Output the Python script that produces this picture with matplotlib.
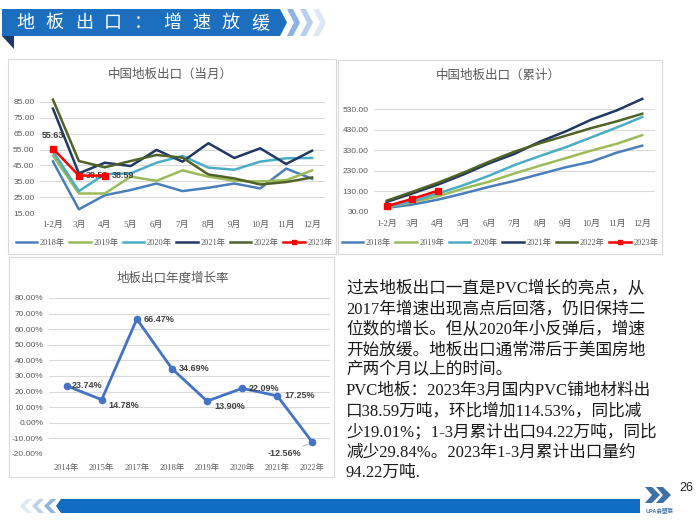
import matplotlib.pyplot as plt
from matplotlib.patches import Polygon, Rectangle

# ---- data ----
months = ["1-2月", "3月", "4月", "5月", "6月", "7月", "8月", "9月", "10月", "11月", "12月"]
series_names = ["2018年", "2019年", "2020年", "2021年", "2022年", "2023年"]
series_colors = ["#4A7EBB", "#9BBB59", "#4BACC6", "#1F3864", "#4F6228", "#FF0000"]

monthly_2018 = [47.5, 17.3, 26.2, 29.5, 33.6, 28.8, 30.9, 33.6, 30.5, 43.0, 36.6]
monthly_2019 = [51.2, 27.3, 27.3, 37.9, 35.3, 41.9, 37.9, 35.3, 34.9, 35.7, 41.9]
monthly_2020 = [54.0, 28.8, 39.5, 40.0, 46.7, 51.0, 43.6, 42.3, 47.4, 49.5, 49.7]
monthly_2021 = [80.8, 40.0, 46.7, 44.6, 54.8, 47.4, 59.0, 49.7, 55.8, 45.9, 54.3]
monthly_2022 = [86.5, 47.8, 43.8, 47.8, 51.6, 49.9, 39.3, 36.8, 33.0, 34.5, 37.4]
monthly_2023 = [55.63, 38.59, 38.59]

cum_2018 = [50, 66, 90, 120, 152, 181, 214, 247, 274, 318, 352]
cum_2019 = [53, 77, 106, 144, 177, 217, 255, 291, 328, 361, 403]
cum_2020 = [54, 82, 120, 160, 206, 258, 302, 344, 392, 440, 491]
cum_2021 = [79, 120, 163, 212, 266, 312, 372, 421, 478, 523, 579]
cum_2022 = [85, 128, 172, 221, 274, 323, 364, 400, 437, 470, 507]
cum_2023 = [58, 94.22, 133]

growth_years = ["2014年", "2015年", "2017年", "2018年", "2019年", "2020年", "2021年", "2022年"]
growth_rate = [23.74, 14.78, 66.47, 34.69, 13.90, 22.09, 17.25, -12.56]

header_title = "地板出口：增速放缓"
body_lines = [
    "过去地板出口一直是PVC增长的亮点，从",
    "2017年增速出现高点后回落，仍旧保持二",
    "位数的增长。但从2020年小反弹后，增速",
    "开始放缓。地板出口通常滞后于美国房地",
    "产两个月以上的时间。",
    "PVC地板：2023年3月国内PVC铺地材料出",
    "口38.59万吨，环比增加114.53%，同比减",
    "少19.01%；1-3月累计出口94.22万吨，同比",
    "减少29.84%。2023年1-3月累计出口量约",
    "94.22万吨.",
]

W, H = 700, 525
CJK = "Noto Sans CJK SC"
SANS = ["Liberation Sans", CJK]
SERIF = ["Liberation Serif", CJK]
GRAY = "#595959"
GRID = "#D9D9D9"


def rect(x0, y0, x1, y1):
    return [x0 / W, 1 - y1 / H, (x1 - x0) / W, (y1 - y0) / H]


fig = plt.figure(figsize=(7, 5.25), dpi=100)

# background layer in pixel coordinates
bg = fig.add_axes([0, 0, 1, 1], zorder=0)
bg.set_xlim(0, W)
bg.set_ylim(H, 0)
bg.axis("off")

# header banner
bg.add_patch(Polygon([(2, 9), (280, 9), (287, 22.5), (280, 36), (2, 36)], closed=True,
                     facecolor="#1B6FBE", edgecolor="none"))
bg.add_patch(Polygon([(2, 36), (14, 36), (14, 49)], closed=True, facecolor="#1F3864", edgecolor="none"))
for i, c in enumerate(["#8DB3E2", "#B8D0EC", "#DCE8F5"]):
    x0 = 287 + i * 13
    bg.add_patch(Polygon([(x0, 9), (x0 + 6, 9), (x0 + 13, 22.5), (x0 + 6, 36), (x0, 36), (x0 + 7, 22.5)],
                         closed=True, facecolor=c, edgecolor="none"))
for i, ch in enumerate(header_title):
    bg.text(25 + i * 29.4, 23, ch, color="white", fontsize=13, family=CJK, ha="center", va="center")

# panels
for (x0, y0, x1, y1) in [(8, 59, 336, 254), (338, 60, 662, 254), (9, 257, 334, 477)]:
    bg.add_patch(Rectangle((x0, y0), x1 - x0, y1 - y0, facecolor="white", edgecolor="#D9D9D9", lw=0.8))

# bottom bar and logo
for i, c in enumerate(["#DCE8F5", "#B8D0EC", "#8DB3E2"]):
    x0 = 20 + i * 12
    bg.add_patch(Polygon([(x0 + 7, 499), (x0 + 12, 499), (x0 + 5, 506), (x0 + 12, 513), (x0 + 7, 513), (x0, 506)],
                         closed=True, facecolor=c, edgecolor="none"))
bg.add_patch(Polygon([(61, 499), (640, 499), (640, 513), (61, 513), (56, 506)], closed=True,
                     facecolor="#0F6CC0", edgecolor="none"))
for x0 in [645, 656]:
    bg.add_patch(Polygon([(x0, 487), (x0 + 7, 487), (x0 + 15, 495), (x0 + 7, 503), (x0, 503), (x0 + 7, 495)],
                         closed=True, facecolor="#3D6FA8", edgecolor="none"))
bg.text(660, 510, "UPA会塑联", fontsize=4, color="#3D6FA8", family=SANS, ha="center", va="center",
        fontweight="bold")
bg.text(686, 488, "26", fontsize=9, color="#222222", family=SANS, ha="center", va="center")

# body text
for i, line in enumerate(body_lines):
    bg.text(346, 289 + i * 20.4, line, fontsize=12, color="#1A1A1A", family=SERIF, ha="left", va="center")


def style_axes(ax, ymin, ymax, step, fmt):
    ticks = [ymin + k * step for k in range(int(round((ymax - ymin) / step)) + 1)]
    ax.set_ylim(ymin, ymax)
    ax.set_yticks(ticks)
    ax.set_yticklabels([fmt(t) for t in ticks], fontsize=6, color=GRAY, family=SANS)
    ax.grid(axis="y", color=GRID, lw=0.8)
    ax.set_axisbelow(True)
    for s in ax.spines.values():
        s.set_visible(False)
    ax.tick_params(length=0, pad=4)
    ax.patch.set_alpha(0)


# ---- top-left: monthly ----
ax1 = fig.add_axes(rect(40, 102, 325, 213), zorder=2)
monthly = [monthly_2018, monthly_2019, monthly_2020, monthly_2021, monthly_2022]
x = list(range(len(months)))
for vals, name, col in zip(monthly, series_names[:5], series_colors[:5]):
    ax1.plot(x, vals, color=col, lw=1.8, label=name, clip_on=False)
ax1.plot(x[:len(monthly_2023)], monthly_2023, color=series_colors[5], lw=1.8, marker="s", ms=4,
         label=series_names[5], clip_on=False, zorder=5)
style_axes(ax1, 15, 85, 10, lambda v: f"{v:.2f}")
ax1.set_xlim(-0.5, len(months) - 0.5)
ax1.set_xticks(x)
ax1.set_xticklabels(months, fontsize=6.5, color=GRAY, family=SERIF)
ax1.tick_params(axis="x", pad=6)
ax1.annotate(f"{monthly_2023[0]:.2f}", (0, monthly_2023[0]), xytext=(0, 6), textcoords="offset points",
             ha="center", va="bottom", fontsize=6.5, fontweight="bold", color="#404040", family=SANS)
for i in [1, 2]:
    ax1.annotate(f"{monthly_2023[i]:.2f}", (i, monthly_2023[i]), xytext=(5, 0), textcoords="offset points",
                 ha="left", va="center", fontsize=6.5, fontweight="bold", color="#404040", family=SANS)
fig.text(170 / W, 1 - 74 / H, "中国地板出口（当月）", fontsize=9, color=GRAY, family=CJK,
         ha="center", va="center")
h, l = ax1.get_legend_handles_labels()
fig.legend(h, l, loc="center", bbox_to_anchor=(174 / W, 1 - 243 / H), ncol=6, frameon=False,
           prop={"family": SERIF, "size": 6}, labelcolor=GRAY, handlelength=2.6, columnspacing=0.5,
           handletextpad=0.3, markerscale=0.8)

# ---- top-right: cumulative ----
ax2 = fig.add_axes(rect(374, 109, 655, 212), zorder=2)
cum = [cum_2018, cum_2019, cum_2020, cum_2021, cum_2022]
for vals, name, col in zip(cum, series_names[:5], series_colors[:5]):
    ax2.plot(x, vals, color=col, lw=1.8, label=name, clip_on=False)
ax2.plot(x[:len(cum_2023)], cum_2023, color=series_colors[5], lw=1.8, marker="s", ms=4,
         label=series_names[5], clip_on=False, zorder=5)
style_axes(ax2, 30, 530, 100, lambda v: f"{v:.2f}")
ax2.set_xlim(-0.5, len(months) - 0.5)
ax2.set_xticks(x)
ax2.set_xticklabels(months, fontsize=6.5, color=GRAY, family=SERIF)
ax2.tick_params(axis="x", pad=6)
fig.text(498 / W, 1 - 75 / H, "中国地板出口（累计）", fontsize=9, color=GRAY, family=CJK,
         ha="center", va="center")
h, l = ax2.get_legend_handles_labels()
fig.legend(h, l, loc="center", bbox_to_anchor=(500 / W, 1 - 243 / H), ncol=6, frameon=False,
           prop={"family": SERIF, "size": 6}, labelcolor=GRAY, handlelength=2.6, columnspacing=0.5,
           handletextpad=0.3, markerscale=0.8)

# ---- bottom-left: growth ----
ax3 = fig.add_axes(rect(49, 298, 330, 454), zorder=2)
gx = list(range(len(growth_years)))
ax3.plot(gx, growth_rate, color="#4472C4", lw=2, marker="o", ms=4.5, clip_on=False)
style_axes(ax3, -20, 80, 10, lambda v: f"{v:.2f}%")
ax3.set_xlim(-0.5, len(growth_years) - 0.5)
ax3.set_xticks(gx)
ax3.set_xticklabels(growth_years, fontsize=6, color=GRAY, family=SERIF)
ax3.tick_params(axis="x", pad=7)
offsets = [(4, 0), (5, -4), (5, 0), (5, 0), (5, -4), (5, 0), (5, 0)]
for i, (dx, dy) in enumerate(offsets):
    ax3.annotate(f"{growth_rate[i]:.2f}%", (i, growth_rate[i]), xytext=(dx, dy), textcoords="offset points",
                 ha="left", va="center", fontsize=6.5, fontweight="bold", color="#404040", family=SANS)
ax3.annotate(f"{growth_rate[-1]:.2f}%", (7, growth_rate[-1]), xytext=(-20, -8), textcoords="offset points",
             ha="center", va="center", fontsize=6.5, fontweight="bold", color="#404040", family=SANS,
             arrowprops=dict(arrowstyle="-", color="#A6A6A6", lw=0.6, shrinkA=9, shrinkB=3))
fig.text(173 / W, 1 - 278 / H, "地板出口年度增长率", fontsize=9, color=GRAY, family=CJK,
         ha="center", va="center")

fig.savefig("out.png", dpi=100, facecolor="white")
